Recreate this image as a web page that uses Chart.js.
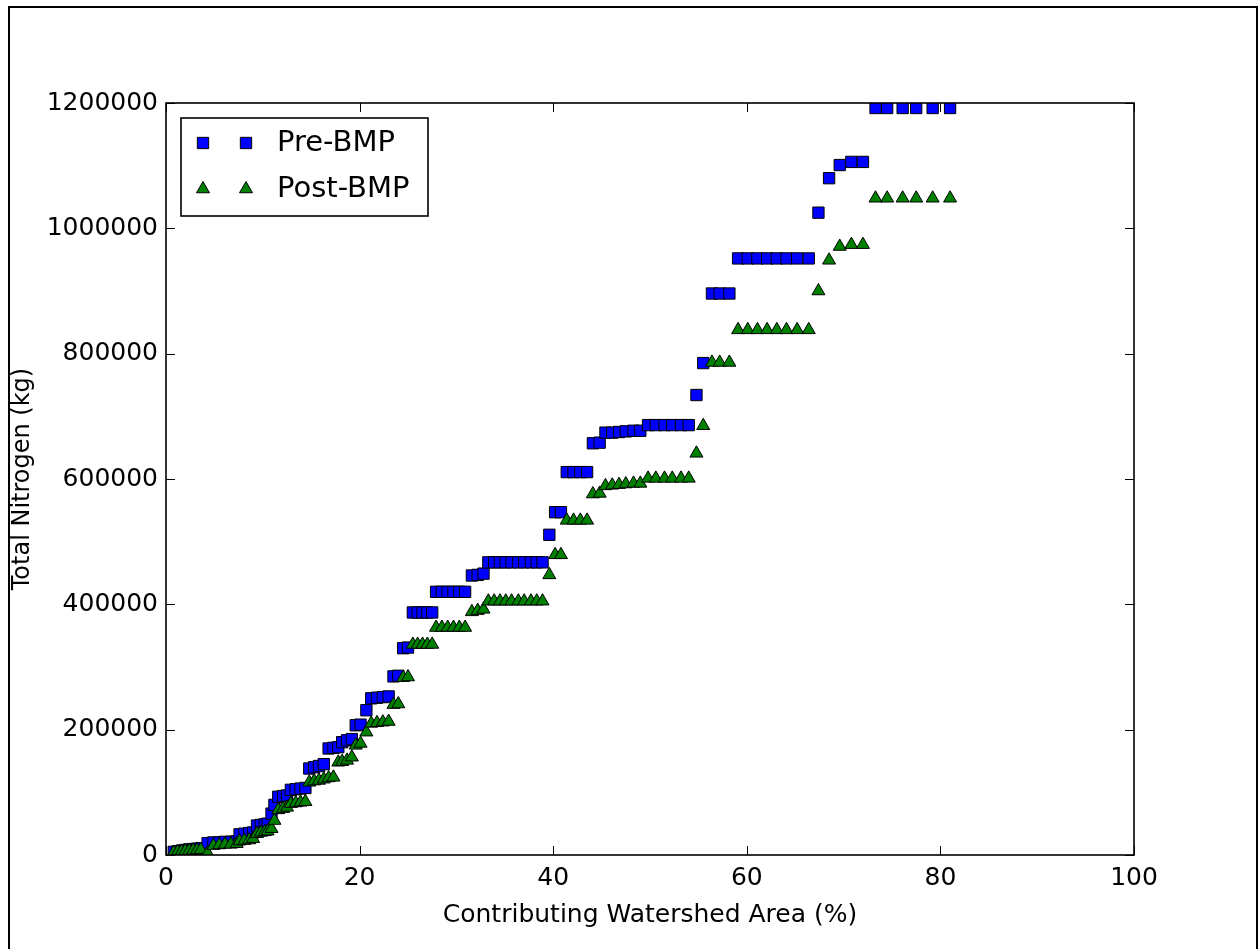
<!DOCTYPE html>
<html><head><meta charset="utf-8">
<script src="https://cdn.jsdelivr.net/npm/chart.js@4/dist/chart.umd.min.js"></script>
<style>html,body{margin:0;padding:0;background:#fff;}canvas{display:block;}</style>
</head><body>
<canvas id="c" width="1259" height="949"></canvas>
<script>
// Contributing watershed area (%)
const areaPct = [
  0.8,1.2,1.6,2.0,2.4,2.8,3.2,3.6,
  4.3,4.9,5.5,6.1,6.7,7.3,
  7.6,8.1,8.6,9.0,
  9.4,9.8,10.2,10.5,
  10.9,11.2,
  11.6,12.1,12.5,
  12.9,13.4,13.9,14.4,
  14.8,15.3,15.8,16.3,
  16.8,17.3,17.8,
  18.2,18.7,19.2,
  19.6,20.1,
  20.7,
  21.2,21.8,22.4,23.0,
  23.5,24.0,
  24.5,25.0,
  25.5,26.0,26.5,27.0,27.5,
  27.9,28.5,29.1,29.7,30.3,30.9,
  31.6,32.2,32.8,
  33.3,33.9,34.5,35.1,35.7,36.4,37.0,37.7,38.3,38.9,
  39.6,
  40.2,40.8,
  41.4,42.1,42.8,43.5,
  44.1,44.8,
  45.4,46.1,46.8,47.5,48.3,49.0,
  49.8,50.6,51.5,52.3,53.2,54.0,
  54.8,55.5,
  56.4,57.2,58.2,
  59.1,60.1,61.1,62.1,63.1,64.1,65.2,66.4,
  67.4,68.5,69.6,70.8,72.0,
  73.3,74.5,76.1,77.5,79.2,81.0
];
// Total nitrogen (kg), Pre-BMP
const preBMP = [
  5000,6000,7000,8000,9000,9500,10000,11000,
  19000,20000,20000,21000,21000,22000,
  33000,34000,35000,36000,
  47000,48000,49000,50000,
  66000,80000,
  93000,94000,95000,
  104000,105000,106000,107000,
  138000,140000,142000,145000,
  170000,171000,172000,
  180000,183000,185000,
  207000,208000,
  231000,
  250000,251000,252000,253000,
  285000,286000,
  330000,331000,
  387000,387000,387000,387000,387000,
  420000,420000,420000,420000,420000,420000,
  446000,447000,449000,
  467000,467000,467000,467000,467000,467000,467000,467000,467000,467000,
  511000,
  547000,547000,
  611000,611000,611000,611000,
  657000,658000,
  674000,674000,675000,676000,677000,677000,
  686000,686000,686000,686000,686000,686000,
  734000,785000,
  896000,896000,896000,
  952000,952000,952000,952000,952000,952000,952000,952000,
  1025000,1080000,1101000,1106000,1106000,
  1192000,1192000,1192000,1192000,1192000,1192000
];
// Total nitrogen (kg), Post-BMP
const postBMP = [
  4000,5000,5500,6500,7000,7500,8000,8500,
  3000,15000,16000,17000,17000,18000,
  22000,23000,24000,26000,
  34000,36000,37000,38000,
  42000,55000,
  72000,74000,76000,
  82000,83000,84000,85000,
  116000,118000,119000,121000,
  123000,124000,148000,
  149000,151000,156000,
  175000,178000,
  196000,
  210000,211000,212000,213000,
  240000,241000,
  283000,284000,
  336000,336000,336000,336000,336000,
  363000,363000,363000,363000,363000,363000,
  388000,390000,392000,
  405000,405000,405000,405000,405000,405000,405000,405000,405000,405000,
  447000,
  479000,479000,
  534000,534000,534000,534000,
  576000,577000,
  589000,590000,591000,592000,593000,593000,
  601000,601000,601000,601000,601000,601000,
  641000,685000,
  786000,786000,786000,
  838000,838000,838000,838000,838000,838000,838000,838000,
  900000,949000,971000,974000,974000,
  1048000,1048000,1048000,1048000,1048000,1048000
];
const xTickValues = [0,20,40,60,80,100];
const yTickValues = [0,200000,400000,600000,800000,1000000,1200000];
const seriesLabels = ['Pre-BMP','Post-BMP'];
const xTitle = 'Contributing Watershed Area (%)';
const yTitle = 'Total Nitrogen (kg)';

const FONT = "'DejaVu Sans', sans-serif";
Chart.defaults.color = '#000';
Chart.defaults.font.family = FONT;

function drawMarker(ctx, style, r, x, y, fill) {
  ctx.save();
  ctx.fillStyle = fill; ctx.strokeStyle = '#000'; ctx.lineWidth = 1;
  ctx.beginPath();
  if (style === 'rect') {
    const s = r * Math.SQRT1_2;
    ctx.rect(x - s, y - s, 2 * s, 2 * s);
  } else {
    let a = 0;
    ctx.moveTo(x + Math.sin(a) * r, y - Math.cos(a) * r);
    a += 2 * Math.PI / 3;
    ctx.lineTo(x + Math.sin(a) * r, y - Math.cos(a) * r);
    a += 2 * Math.PI / 3;
    ctx.lineTo(x + Math.sin(a) * r, y - Math.cos(a) * r);
    ctx.closePath();
  }
  ctx.fill(); ctx.stroke();
  ctx.restore();
}

const framePlugin = {
  id: 'frame',
  afterDatasetsDraw(chart) {
    const ctx = chart.ctx, a = chart.chartArea;
    const xs = chart.scales.x, ys = chart.scales.y;
    ctx.save();
    ctx.strokeStyle = '#000';
    ctx.lineWidth = 1;
    const tl = 9;
    ctx.beginPath();
    xTickValues.forEach(v => {
      const px = Math.round(xs.getPixelForValue(v)) + 0.5;
      ctx.moveTo(px, a.bottom); ctx.lineTo(px, a.bottom - tl);
      ctx.moveTo(px, a.top); ctx.lineTo(px, a.top + tl);
    });
    yTickValues.forEach(v => {
      const py = Math.round(ys.getPixelForValue(v)) + 0.5;
      ctx.moveTo(a.left, py); ctx.lineTo(a.left + tl, py);
      ctx.moveTo(a.right, py); ctx.lineTo(a.right - tl, py);
    });
    ctx.stroke();
    ctx.lineWidth = 1.6;
    ctx.strokeRect(a.left, a.top, a.right - a.left, a.bottom - a.top);
    ctx.restore();
  },
  afterDraw(chart) {
    const ctx = chart.ctx;
    ctx.save();
    // legend
    const bx = 181, by = 118, bw = 247, bh = 98;
    ctx.fillStyle = '#fff';
    ctx.fillRect(bx, by, bw, bh);
    ctx.strokeStyle = '#000'; ctx.lineWidth = 1.6;
    ctx.strokeRect(bx, by, bw, bh);
    const rows = [143, 189];
    chart.data.datasets.forEach((ds, i) => {
      const y = rows[i];
      drawMarker(ctx, ds.pointStyle, ds.pointRadius, 203, y, ds.backgroundColor);
      drawMarker(ctx, ds.pointStyle, ds.pointRadius, 246, y, ds.backgroundColor);
      ctx.fillStyle = '#000';
      ctx.font = '29px ' + FONT;
      ctx.textBaseline = 'middle';
      ctx.textAlign = 'left';
      ctx.fillText(ds.label, 277, y);
    });
    // figure frame
    ctx.lineWidth = 2;
    ctx.beginPath();
    ctx.moveTo(9, 960); ctx.lineTo(9, 7); ctx.lineTo(1257, 7); ctx.lineTo(1257, 960);
    ctx.stroke();
    ctx.restore();
  }
};

new Chart(document.getElementById('c'), {
  type: 'scatter',
  data: {
    datasets: [
      {
        label: seriesLabels[0],
        data: areaPct.map((x, i) => ({x: x, y: preBMP[i]})),
        pointStyle: 'rect', pointRadius: 8, pointHoverRadius: 8,
        backgroundColor: '#0000ff', borderColor: '#000', borderWidth: 1,
        order: 1, clip: 0
      },
      {
        label: seriesLabels[1],
        data: areaPct.map((x, i) => ({x: x, y: postBMP[i]})),
        pointStyle: 'triangle', pointRadius: 7.5, pointHoverRadius: 7.5,
        backgroundColor: '#008000', borderColor: '#000', borderWidth: 1,
        order: 0, clip: 0
      }
    ]
  },
  options: {
    responsive: false,
    animation: false,
    events: [],
    layout: { padding: { left: 0, top: 103, right: 125, bottom: 0 } },
    plugins: { legend: { display: false }, tooltip: { enabled: false } },
    scales: {
      x: {
        type: 'linear', min: 0, max: 100,
        afterBuildTicks: s => { s.ticks = xTickValues.map(v => ({value: v})); },
        afterFit: s => { s.height = 94; },
        grid: { display: false, drawTicks: false },
        border: { display: false },
        ticks: { font: { size: 25 }, padding: 8, maxRotation: 0, callback: v => String(v) },
        title: { display: true, text: xTitle, font: { size: 25 }, padding: { top: 0, bottom: 19 } }
      },
      y: {
        type: 'linear', min: 0, max: 1200000,
        afterBuildTicks: s => { s.ticks = yTickValues.map(v => ({value: v})); },
        afterFit: s => { s.width = 166; },
        grid: { display: false, drawTicks: false },
        border: { display: false },
        ticks: { font: { size: 25 }, padding: 8, callback: v => String(v) },
        title: { display: true, text: yTitle, font: { size: 24 }, padding: { top: 8, bottom: 0 } }
      }
    }
  },
  plugins: [framePlugin]
});
</script>
</body></html>
